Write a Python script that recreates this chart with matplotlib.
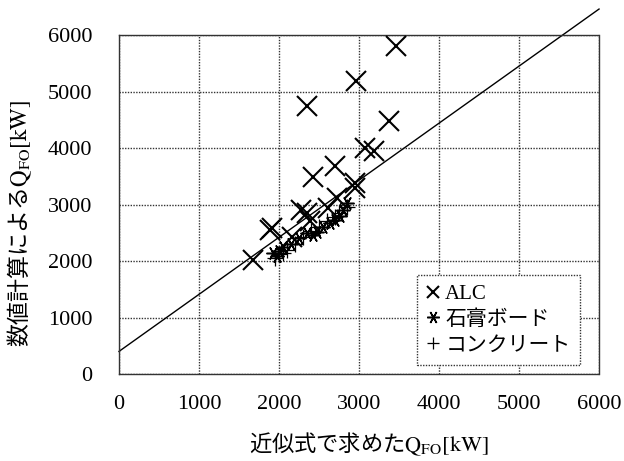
import matplotlib
matplotlib.use("Agg")
import matplotlib.pyplot as plt

plt.rcParams['font.family'] = ['Liberation Serif', 'Noto Sans CJK JP', 'DejaVu Sans']
plt.rcParams['mathtext.fontset'] = 'stix'

# 近似式 vs 数値計算 (Q_FO, kW)
alc_x = [1680, 1890, 1910, 2160, 2280, 2350, 2390, 2430, 2610, 2700, 2720,
         2950, 2950, 3070, 3190, 3380, 2350, 2960, 3460]
alc_y = [2020, 2550, 2580, 2430, 2900, 2850, 2700, 3490, 2940, 3690, 3120,
         3290, 3380, 4000, 3950, 4470, 4750, 5190, 5800]

gyp_x = [1920, 1970, 2000, 2050, 2150, 2250, 2350, 2430, 2470, 2550, 2640,
         2700, 2760, 2800, 2850]
gyp_y = [2140, 2080, 2180, 2250, 2300, 2400, 2500, 2460, 2520, 2600, 2670,
         2720, 2790, 2900, 3020]

con_x = [1950, 2000, 2050, 2100, 2200, 2300, 2400, 2500, 2600, 2700, 2750, 2850]
con_y = [2050, 2120, 2150, 2200, 2300, 2420, 2530, 2600, 2700, 2780, 2850, 2950]

# regression line y = a*x + b
fit_a = 1.01
fit_b = 400
fit_x = [0, 6000]

ticks = [0, 1000, 2000, 3000, 4000, 5000, 6000]
labels = ['ALC', '石膏ボード', 'コンクリート']

fig = plt.figure(figsize=(6.24, 4.61), dpi=100)
ax = fig.add_axes([0.1907, 0.1887, 0.7693, 0.7353])

ax.plot(alc_x, alc_y, ls='none', marker='x', ms=14, mew=1.5, color='black',
        label=labels[0], zorder=3)
ax.plot(gyp_x, gyp_y, ls='none', marker=(6, 2, 90), ms=10, mew=1.1,
        color='black', label=labels[1], zorder=3)
ax.plot(con_x, con_y, ls='none', marker='+', ms=11, mew=0.9, color='black',
        label=labels[2], zorder=3)
ax.plot(fit_x, [fit_a * v + fit_b for v in fit_x], color='black', lw=1.0,
        clip_on=False, zorder=2)

ax.set_xlim(0, 6000)
ax.set_ylim(0, 6000)
ax.set_xticks(ticks)
ax.set_yticks(ticks)
ax.tick_params(length=0, labelsize=16)
ax.tick_params(axis='x', pad=15)
ax.tick_params(axis='y', pad=19)
ax.grid(True, color='#333333', linestyle=(0, (1, 1)), lw=1.0)
for s in ax.spines.values():
    s.set_linestyle((0, (1, 1)))
    s.set_linewidth(1.0)
    s.set_color('#333333')

lab_font = ['Noto Sans CJK JP', 'DejaVu Sans']
ax.set_xlabel('近似式で求めた$\\mathrm{Q_{FO}[kW]}$', fontsize=16, family=lab_font)
ax.set_ylabel('数値計算による$\\mathrm{Q_{FO}[kW]}$', fontsize=16.5, family=lab_font)
ax.xaxis.set_label_coords(0.52, -0.168)
ax.yaxis.set_label_coords(-0.177, 0.445)

leg = ax.legend(loc='lower right', bbox_to_anchor=(0.96, 0.027),
                borderaxespad=0, fancybox=False, handlelength=0.6,
                handletextpad=0.3, borderpad=0.45, labelspacing=0.3,
                framealpha=1,
                prop={'family': ['Liberation Serif', 'Noto Sans CJK JP'], 'size': 15})
leg.get_frame().set_edgecolor('#333333')
leg.get_frame().set_linestyle((0, (1, 1)))
leg.get_frame().set_linewidth(1.0)
for h in leg.legend_handles:
    h.set_markersize(9)

fig.savefig('out.png', dpi=100)
